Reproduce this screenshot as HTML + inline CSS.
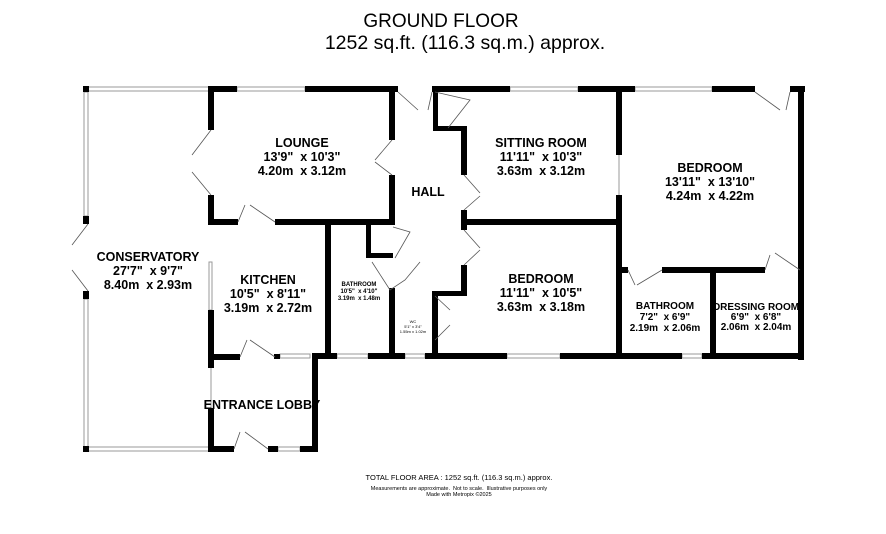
<!DOCTYPE html>
<html><head><meta charset="utf-8"><style>
html,body{margin:0;padding:0;background:#fff;width:886px;height:534px;overflow:hidden}
svg{display:block}
text{font-family:"Liberation Sans",Arial,sans-serif;white-space:pre}
.r{font-weight:bold;font-size:12.5px;text-anchor:middle}
.s{font-weight:bold;font-size:10px;text-anchor:middle}
.t{font-weight:bold;font-size:6px;text-anchor:middle}
</style></head><body>
<svg width="886" height="534" viewBox="0 0 886 534" xml:space="preserve">
<text x="441" y="27" font-size="19" text-anchor="middle">GROUND FLOOR</text>
<text x="465" y="49" font-size="19.5" text-anchor="middle">1252 sq.ft. (116.3 sq.m.) approx.</text>
<g fill="none" stroke="#999" stroke-width="1">
<rect x="88" y="87" width="122" height="4"/><rect x="237" y="87" width="68" height="4"/>
<rect x="510" y="87" width="68" height="4"/><rect x="635" y="87" width="77" height="4"/>
<rect x="84" y="92" width="4" height="124"/><rect x="84" y="299" width="4" height="150"/>
<rect x="88" y="447" width="122" height="4"/>
<rect x="209" y="262" width="3" height="48"/>
<rect x="280" y="354" width="30" height="4"/><rect x="337" y="354" width="31" height="4"/>
<rect x="405" y="354" width="20" height="4"/><rect x="507" y="354" width="53" height="4"/>
<rect x="682" y="354" width="20" height="4"/><rect x="278" y="447" width="22" height="4"/>
<line x1="211" y1="368" x2="211" y2="408"/><line x1="619" y1="155" x2="619" y2="195"/>
</g>
<g fill="#000">
<rect x="83" y="86" width="6" height="6"/><rect x="83" y="216" width="6" height="8"/><rect x="83" y="291" width="6" height="8"/><rect x="83" y="446" width="6" height="6"/>
<rect x="210" y="86" width="27" height="6"/><rect x="305" y="86" width="93" height="6"/>
<rect x="432" y="86" width="78" height="6"/><rect x="578" y="86" width="57" height="6"/>
<rect x="712" y="86" width="43" height="6"/><rect x="790" y="86" width="15" height="6"/>
<rect x="798" y="86" width="6" height="274"/>
<rect x="208" y="86" width="6" height="44"/><rect x="208" y="195" width="6" height="30"/>
<rect x="208" y="219" width="30" height="6"/><rect x="275" y="219" width="120" height="6"/>
<rect x="389" y="86" width="6" height="54"/><rect x="389" y="175" width="6" height="50"/>
<rect x="433" y="86" width="5" height="45"/><rect x="433" y="126" width="33" height="5"/>
<rect x="461" y="126" width="6" height="49"/><rect x="461" y="210" width="6" height="20"/>
<rect x="461" y="219" width="160" height="6"/><rect x="461" y="265" width="6" height="31"/>
<rect x="432" y="291" width="35" height="5"/><rect x="432" y="291" width="6" height="68"/>
<rect x="616" y="86" width="6" height="69"/><rect x="616" y="195" width="6" height="164"/>
<rect x="616" y="267" width="12" height="6"/><rect x="662" y="267" width="103" height="6"/>
<rect x="710" y="267" width="6" height="92"/>
<rect x="312" y="353" width="25" height="6"/><rect x="368" y="353" width="37" height="6"/>
<rect x="425" y="353" width="82" height="6"/><rect x="560" y="353" width="122" height="6"/><rect x="702" y="353" width="102" height="6"/>
<rect x="208" y="310" width="6" height="58"/><rect x="208" y="354" width="32" height="6"/><rect x="274" y="354" width="6" height="5"/>
<rect x="325" y="222" width="6" height="137"/>
<rect x="366" y="222" width="5" height="36"/><rect x="366" y="253" width="27" height="5"/>
<rect x="389" y="288" width="6" height="71"/>
<rect x="312" y="356" width="6" height="96"/>
<rect x="208" y="408" width="6" height="44"/><rect x="208" y="446" width="26" height="6"/><rect x="268" y="446" width="10" height="6"/><rect x="300" y="446" width="18" height="6"/>
</g>
<g fill="none" stroke="#555" stroke-width="0.8">
<path d="M211 130 L192 155 M211 195 L192 172"/><path d="M392 140 L375 160 M392 175 L375 162"/>
<path d="M398 92 L418 110 M432 92 L428 110"/><path d="M238 222 L245 205 M275 222 L250 205"/>
<path d="M464 175 L480 193 M464 210 L480 196"/><path d="M464 230 L480 248 M464 265 L480 250"/>
<path d="M755 92 L780 110 M790 92 L786 110"/><path d="M628 270 L635 285 M662 270 L637 285"/>
<path d="M765 270 L770 255 M800 270 L775 253"/><path d="M240 357 L247 340 M275 357 L250 340"/>
<path d="M234 449 L240 432 M268 449 L245 432"/><path d="M88 224 L72 245 M88 291 L72 270"/>
<path d="M393 227 L410 232 L395 258"/><path d="M372 262 L390 290 L405 280 L420 262"/>
<path d="M435 296 L450 310 M435 340 L450 325"/><path d="M435 92 L470 100 L448 128"/>
</g>
<text class="r" x="302" y="147">LOUNGE</text><text class="r" x="302" y="161">13'9"  x 10'3"</text><text class="r" x="302" y="175">4.20m  x 3.12m</text>
<text class="r" x="428" y="196">HALL</text>
<text class="r" x="541" y="147">SITTING ROOM</text><text class="r" x="541" y="161">11'11"  x 10'3"</text><text class="r" x="541" y="175">3.63m  x 3.12m</text>
<text class="r" x="710" y="172">BEDROOM</text><text class="r" x="710" y="186">13'11"  x 13'10"</text><text class="r" x="710" y="200">4.24m  x 4.22m</text>
<text class="r" x="541" y="283">BEDROOM</text><text class="r" x="541" y="297">11'11"  x 10'5"</text><text class="r" x="541" y="311">3.63m  x 3.18m</text>
<text class="r" x="148" y="261">CONSERVATORY</text><text class="r" x="148" y="275">27'7"  x 9'7"</text><text class="r" x="148" y="289">8.40m  x 2.93m</text>
<text class="r" x="268" y="284">KITCHEN</text><text class="r" x="268" y="298">10'5"  x 8'11"</text><text class="r" x="268" y="312">3.19m  x 2.72m</text>
<text class="r" x="262" y="409">ENTRANCE LOBBY</text>
<text class="t" x="359" y="286">BATHROOM</text><text class="t" x="359" y="293">10'5"  x 4'10"</text><text class="t" x="359" y="300">3.19m  x 1.48m</text>
<text class="s" x="665" y="309">BATHROOM</text><text class="s" x="665" y="320">7'2"  x 6'9"</text><text class="s" x="665" y="331">2.19m  x 2.06m</text>
<text class="s" x="756" y="310" font-size="9">DRESSING ROOM</text><text class="s" x="756" y="320" font-size="9">6'9"  x 6'8"</text><text class="s" x="756" y="330" font-size="9">2.06m  x 2.04m</text>
<text x="413" y="323" font-size="4" text-anchor="middle">WC</text><text x="413" y="328" font-size="4" text-anchor="middle">5'1" x 3'4"</text><text x="413" y="333" font-size="4" text-anchor="middle">1.55m x 1.02m</text>
<text x="459" y="480" font-size="7.5" text-anchor="middle">TOTAL FLOOR AREA : 1252 sq.ft. (116.3 sq.m.) approx.</text>
<text x="459" y="490" font-size="5.5" text-anchor="middle">Measurements are approximate.  Not to scale.  Illustrative purposes only</text>
<text x="459" y="496" font-size="5.5" text-anchor="middle">Made with Metropix ©2025</text>
</svg>
</body></html>
